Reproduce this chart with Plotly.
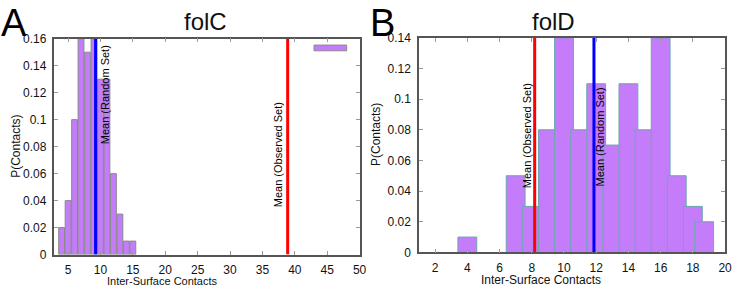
import plotly.graph_objects as go

# ---- data ----
folc_x = [4, 5, 6, 7, 8, 9, 10, 11, 12, 13, 14, 15]
folc_p = [0.02, 0.04, 0.10, 0.16, 0.15, 0.16, 0.13, 0.13, 0.06, 0.03, 0.01, 0.01]
folc_mean_random = 9.25
folc_mean_observed = 38.9

fold_x = [4, 7, 8, 9, 10, 11, 12, 13, 14, 15, 16, 17, 18, 18.7]
fold_p = [0.01, 0.05, 0.03, 0.08, 0.14, 0.08, 0.11, 0.07, 0.11, 0.08, 0.14, 0.05, 0.03, 0.02]
fold_mean_observed = 8.18
fold_mean_random = 11.86

folc_xticks = [5, 10, 15, 20, 25, 30, 35, 40, 45, 50]
folc_yticks = [0, 0.02, 0.04, 0.06, 0.08, 0.1, 0.12, 0.14, 0.16]
fold_xticks = [2, 4, 6, 8, 10, 12, 14, 16, 18, 20]
fold_yticks = [0, 0.02, 0.04, 0.06, 0.08, 0.1, 0.12, 0.14]

FONT = "Liberation Sans, Arial, sans-serif"
PURPLE = "#c47cfa"

fig = go.Figure()

fig.add_trace(go.Bar(x=folc_x, y=folc_p, width=0.9, marker=dict(color=PURPLE, line=dict(color="#8a8a8a", width=1)),
                     xaxis="x", yaxis="y", showlegend=False))
fig.add_trace(go.Scatter(x=[folc_mean_random] * 2, y=[0, 0.16], mode="lines", line=dict(color="#0000ff", width=3),
                         xaxis="x", yaxis="y", showlegend=False))
fig.add_trace(go.Scatter(x=[folc_mean_observed] * 2, y=[0, 0.16], mode="lines", line=dict(color="#ff0000", width=3),
                         xaxis="x", yaxis="y", showlegend=False))

fig.add_trace(go.Bar(x=fold_x, y=fold_p, width=1.17, marker=dict(color=PURPLE, line=dict(color="#6aa8b0", width=1)),
                     xaxis="x2", yaxis="y2", showlegend=False))
fig.add_trace(go.Scatter(x=[fold_mean_observed] * 2, y=[0, 0.14], mode="lines", line=dict(color="#ff0000", width=3),
                         xaxis="x2", yaxis="y2", showlegend=False))
fig.add_trace(go.Scatter(x=[fold_mean_random] * 2, y=[0, 0.14], mode="lines", line=dict(color="#0000ff", width=3),
                         xaxis="x2", yaxis="y2", showlegend=False))

W, H = 741, 293


def px_x(p):
    return p / W


def px_y(p):
    return 1 - p / H


axis_common = dict(showline=True, linecolor="#555555", linewidth=1.5, mirror="allticks", ticks="inside",
                   ticklen=4, tickcolor="#9a9a9a", showgrid=False, zeroline=False,
                   tickfont=dict(family=FONT, size=12, color="#111111"))

fig.update_layout(
    width=W, height=H, margin=dict(l=0, r=0, t=0, b=0),
    paper_bgcolor="white", plot_bgcolor="white", barmode="overlay",
    xaxis=dict(domain=[px_x(55), px_x(363)], range=[2.9, 50], tickvals=folc_xticks,
               ticktext=[str(v) for v in folc_xticks], anchor="y", ticklabelstandoff=3, **axis_common),
    yaxis=dict(domain=[px_y(260), px_y(33.3)], range=[0, 0.16], tickvals=folc_yticks,
               ticktext=[f"{v:g}" for v in folc_yticks], anchor="x", ticklabelstandoff=4, **axis_common),
    xaxis2=dict(domain=[px_x(423), px_x(732)], range=[1, 20], tickvals=fold_xticks,
                ticktext=[str(v) for v in fold_xticks], anchor="y2", ticklabelstandoff=3, **axis_common),
    yaxis2=dict(domain=[px_y(257.7), px_y(32.3)], range=[0, 0.14], tickvals=fold_yticks,
                ticktext=[f"{v:g}" for v in fold_yticks], anchor="x2", ticklabelstandoff=4, **axis_common),
)

ann = []
# panel letters and titles
ann.append(dict(text="A", x=px_x(14), y=px_y(17), xref="paper", yref="paper", showarrow=False,
                font=dict(family=FONT, size=38, color="black"), xanchor="center", yanchor="middle"))
ann.append(dict(text="B", x=px_x(386), y=px_y(17), xref="paper", yref="paper", showarrow=False,
                font=dict(family=FONT, size=38, color="black"), xanchor="center", yanchor="middle"))
ann.append(dict(text="folC", x=px_x(207), y=px_y(15), xref="paper", yref="paper", showarrow=False,
                font=dict(family=FONT, size=24, color="#111111"), xanchor="center", yanchor="middle"))
ann.append(dict(text="folD", x=px_x(559), y=px_y(15), xref="paper", yref="paper", showarrow=False,
                font=dict(family=FONT, size=24, color="#111111"), xanchor="center", yanchor="middle"))
# axis titles
ann.append(dict(text="Inter-Surface Contacts", x=px_x(164), y=px_y(288), xref="paper", yref="paper",
                showarrow=False, font=dict(family=FONT, size=11, color="#111111"), xanchor="center", yanchor="middle"))
ann.append(dict(text="Inter-Surface Contacts", x=px_x(546), y=px_y(286.5), xref="paper", yref="paper",
                showarrow=False, font=dict(family=FONT, size=12, color="#111111"), xanchor="center", yanchor="middle"))
ann.append(dict(text="P(Contacts)", x=px_x(16), y=px_y(146), xref="paper", yref="paper", textangle=-90,
                showarrow=False, font=dict(family=FONT, size=12, color="#111111"), xanchor="center", yanchor="middle"))
ann.append(dict(text="P(Contacts)", x=px_x(379), y=px_y(134), xref="paper", yref="paper", textangle=-90,
                showarrow=False, font=dict(family=FONT, size=12, color="#111111"), xanchor="center", yanchor="middle"))
# mean labels
ann.append(dict(text="Mean (Random Set)", x=folc_mean_random, xref="x", y=px_y(92), yref="paper", xshift=9,
                textangle=-90, showarrow=False, font=dict(family=FONT, size=11, color="black"),
                xanchor="center", yanchor="middle"))
ann.append(dict(text="Mean (Observed Set)", x=folc_mean_observed, xref="x", y=px_y(155), yref="paper", xshift=-10,
                textangle=-90, showarrow=False, font=dict(family=FONT, size=11, color="black"),
                xanchor="center", yanchor="middle"))
ann.append(dict(text="Mean (Observed Set)", x=fold_mean_observed, xref="x2", y=px_y(135), yref="paper", xshift=-8,
                textangle=-90, showarrow=False, font=dict(family=FONT, size=11, color="black"),
                xanchor="center", yanchor="middle"))
ann.append(dict(text="Mean (Random Set)", x=fold_mean_random, xref="x2", y=px_y(136), yref="paper", xshift=6,
                textangle=-90, showarrow=False, font=dict(family=FONT, size=11, color="black"),
                xanchor="center", yanchor="middle"))
fig.update_layout(annotations=ann)

# key sample (gnuplot legend swatch, no label) in panel A
fig.add_shape(type="rect", xref="x domain", yref="y domain", x0=(317 - 55) / 308, x1=(350 - 55) / 308,
              y0=(260 - 46) / 226.7, y1=(260 - 40) / 226.7, fillcolor=PURPLE, line=dict(color="#8a8a8a", width=1))

fig.write_html("out.html")
